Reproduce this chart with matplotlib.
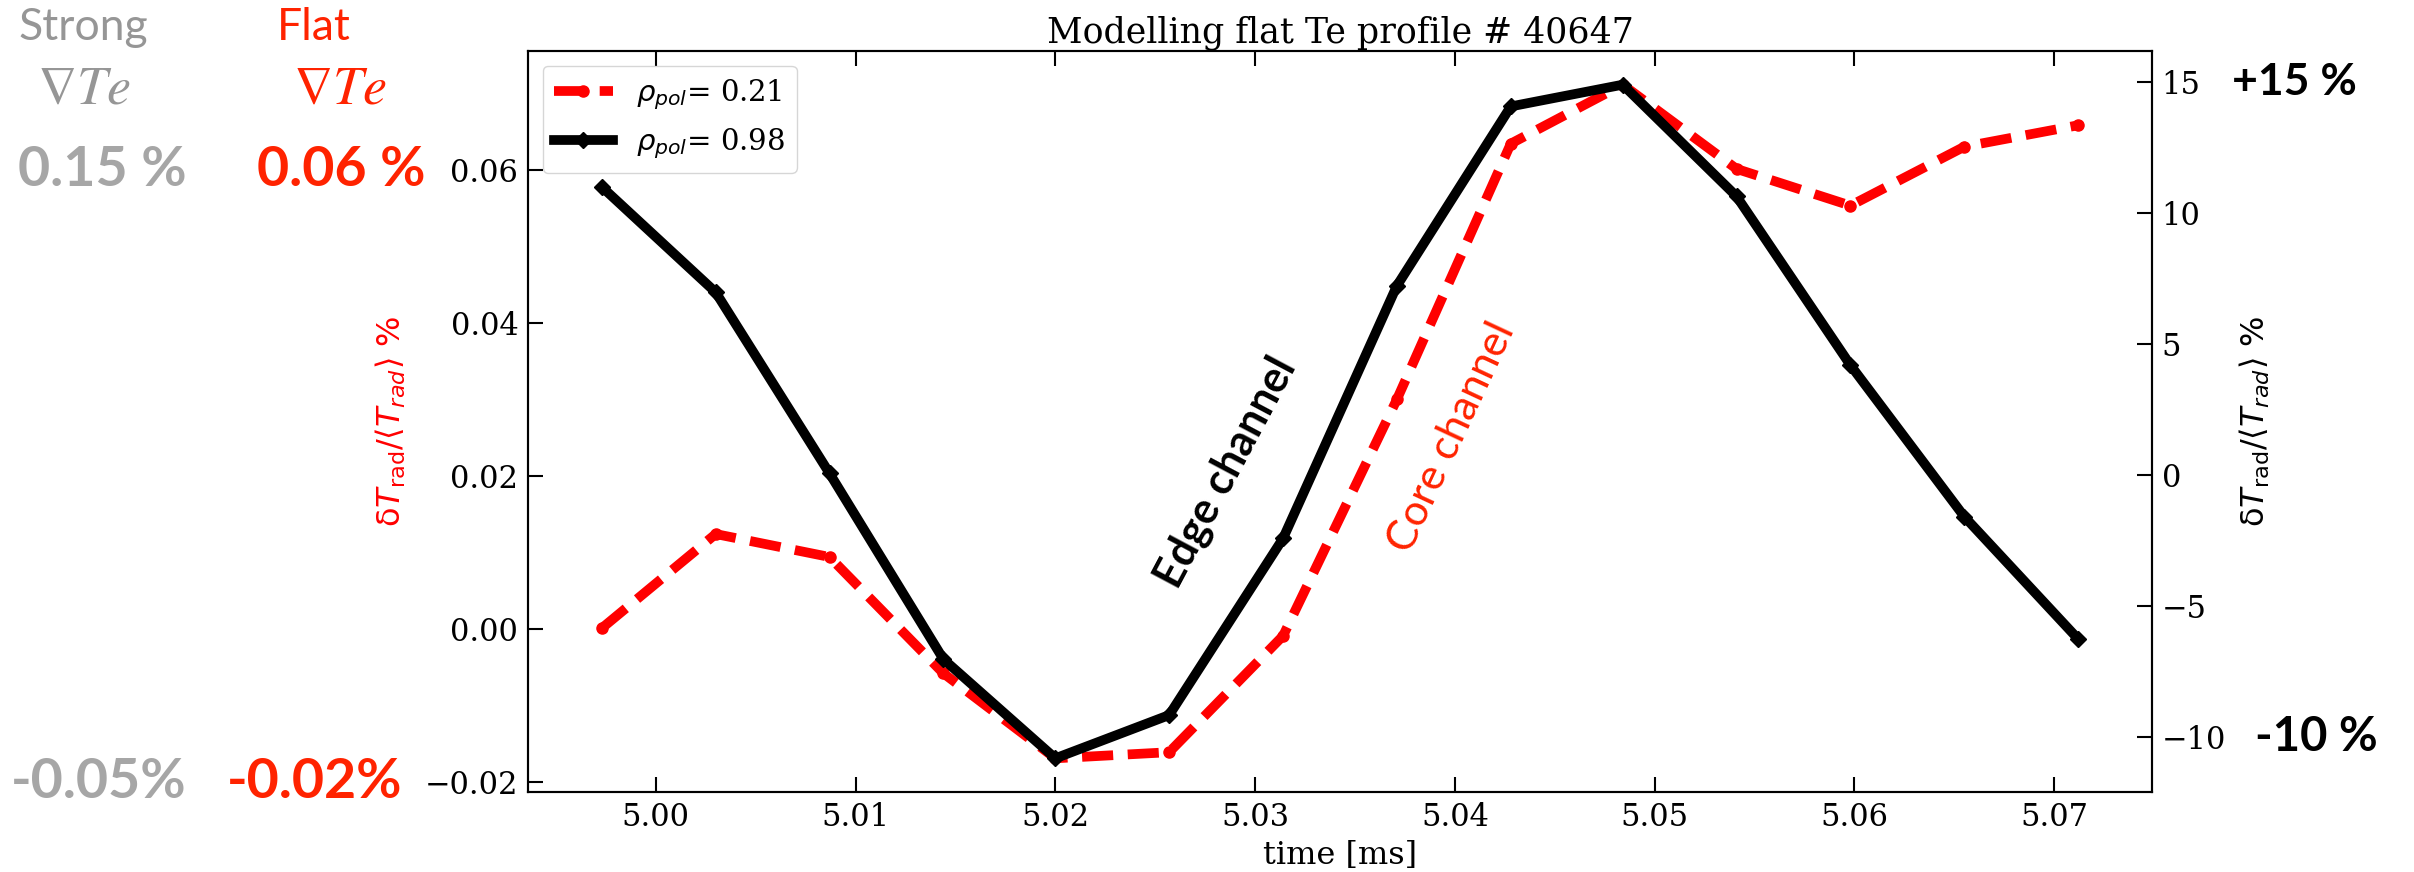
import matplotlib
matplotlib.use("Agg")
import matplotlib.pyplot as plt

# sample times [ms]
time_ms = [4.9973, 5.0030, 5.0087, 5.0144, 5.0200, 5.0257, 5.0314,
           5.0371, 5.0428, 5.0484, 5.0541, 5.0598, 5.0655, 5.0712]

# core channel, rho_pol = 0.21 (left axis)
core_dT = [0.0001, 0.0124, 0.0094, -0.0058, -0.0169, -0.0161, -0.0009,
           0.0300, 0.0634, 0.0711, 0.0601, 0.0553, 0.0630, 0.0658]

# edge channel, rho_pol = 0.98 (right axis, %)
edge_dT = [10.98, 6.96, 0.05, -7.04, -10.82, -9.17, -2.43,
           7.21, 14.05, 14.88, 10.62, 4.18, -1.60, -6.27]

labels = [r"$\rho_{pol}$= 0.21", r"$\rho_{pol}$= 0.98"]

GREY = "#969696"
GREY_NUM = "#A6A6A6"
ORANGE_RED = "#FF2300"

plt.rcParams["font.family"] = "serif"
plt.rcParams["mathtext.fontset"] = "dejavusans"

W, H = 2414, 872
fig = plt.figure(figsize=(W / 100, H / 100), dpi=100)
ax = fig.add_axes([528 / W, 1 - 792 / H, (2152 - 528) / W, (792 - 51) / H])
ax2 = ax.twinx()

l1, = ax.plot(time_ms, core_dT, color="r", lw=7, ls="--", dashes=(3.2, 1.5),
              marker="o", ms=8, label=labels[0])
l2, = ax2.plot(time_ms, edge_dT, color="k", lw=7, marker="D", ms=8,
               label=labels[1])

ax.set_title("Modelling flat Te profile # 40647", fontsize=25, pad=6)
ax.set_xlabel("time [ms]", fontsize=23, labelpad=5)
ylab = "δ$T_{\\mathrm{rad}}/\\langle T_{rad}\\rangle$ %"
ax.set_ylabel(ylab, color="r", fontsize=23, family="DejaVu Sans", labelpad=12)
ax2.set_ylabel(ylab, color="k", fontsize=23, family="DejaVu Sans", labelpad=8)

ax.set_xticks([5.00, 5.01, 5.02, 5.03, 5.04, 5.05, 5.06, 5.07])
ax.set_yticks([-0.02, 0.00, 0.02, 0.04, 0.06])
ax2.set_yticks([-10, -5, 0, 5, 10, 15])

ax.tick_params(direction="in", length=11, width=1.5, pad=7, labelsize=22,
               top=True, right=False)
ax2.tick_params(direction="in", length=11, width=1.5, pad=7, labelsize=22)
for a in (ax, ax2):
    for sp in a.spines.values():
        sp.set_linewidth(1.5)

leg = ax2.legend(handles=[l1, l2], loc="upper left", fontsize=21)

# annotations on the plot
ax.text(5.02855, 0.0205, "Edge channel", rotation=62, rotation_mode="anchor",
        ha="center", va="center", fontsize=31, fontweight="bold",
        family="Lato", color="k")
ax.text(5.03985, 0.0250, "Core channel", rotation=65, rotation_mode="anchor",
        ha="center", va="center", fontsize=31, family="Lato", color=ORANGE_RED)

# side annotations
fig.text(83 / W, 1 - 27 / H, "Strong", ha="center", va="center",
         fontsize=32, family="Lato", color=GREY)
fig.text(314 / W, 1 - 27 / H, "Flat", ha="center", va="center",
         fontsize=32, family="Lato", color=ORANGE_RED)
fig.text(84 / W, 1 - 88 / H, r"$\nabla Te$", ha="center", va="center",
         fontsize=39, math_fontfamily="stix", color=GREY)
fig.text(340 / W, 1 - 88 / H, r"$\nabla Te$", ha="center", va="center",
         fontsize=39, math_fontfamily="stix", color=ORANGE_RED)

ytr = ax.get_yaxis_transform()
span = 2152 - 528
ax.text((102 - 528) / span, 0.06, "0.15 %", transform=ytr, ha="center",
        va="center", fontsize=40, fontweight="bold", family="Lato",
        color=GREY_NUM, clip_on=False)
ax.text((341 - 528) / span, 0.06, "0.06 %", transform=ytr, ha="center",
        va="center", fontsize=40, fontweight="bold", family="Lato",
        color=ORANGE_RED, clip_on=False)
ax.text((99 - 528) / span, -0.02, "-0.05%", transform=ytr, ha="center",
        va="center", fontsize=40, fontweight="bold", family="Lato",
        color=GREY_NUM, clip_on=False)
ax.text((315 - 528) / span, -0.02, "-0.02%", transform=ytr, ha="center",
        va="center", fontsize=40, fontweight="bold", family="Lato",
        color=ORANGE_RED, clip_on=False)

ytr2 = ax2.get_yaxis_transform()
ax2.text((2294 - 528) / span, 15, "+15 %", transform=ytr2, ha="center",
         va="center", fontsize=32, fontweight="bold", family="Lato",
         color="k", clip_on=False)
ax2.text((2316 - 528) / span, -10, "-10 %", transform=ytr2, ha="center",
         va="center", fontsize=34, fontweight="bold", family="Lato",
         color="k", clip_on=False)

fig.savefig("out.png", dpi=100)
